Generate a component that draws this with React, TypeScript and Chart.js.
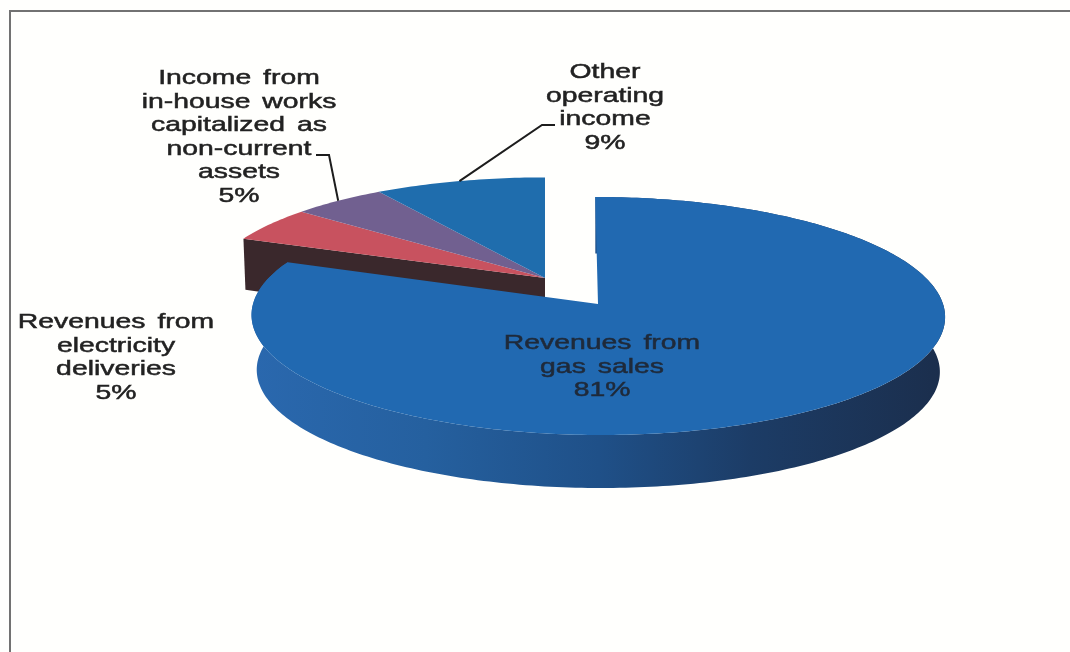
import React, { useEffect, useRef } from "react";
import { Chart, registerables } from "chart.js";

Chart.register(...registerables);

// Revenue structure, in percent of total operating income
const categories = [
  "Revenues from gas sales",
  "Revenues from electricity deliveries",
  "Income from in-house works capitalized as non-current assets",
  "Other operating income",
];
const shares = [81, 5, 5, 9];
const sliceColors = ["#2169b1", "#c8525f", "#716090", "#1f6dad"];

const labelLines = [
  ["Revenues from", "gas sales"],
  ["Revenues from", "electricity", "deliveries"],
  ["Income from", "in-house works", "capitalized as", "non-current", "assets"],
  ["Other", "operating", "income"],
];
const labelCentres = [
  { x: 602, y: 343.5 },
  { x: 116, y: 322.5 },
  { x: 239, y: 78.5 },
  { x: 605, y: 72.5 },
];
const leaderElbows = [
  null,
  null,
  [{ x: 316, y: 155 }, { x: 329, y: 155 }],
  [{ x: 555, y: 125 }, { x: 542, y: 125 }],
];

// Flattened disc seen in perspective
const WIDTH = 1070;
const HEIGHT = 652;
const DISC = { a: 345, b: 117.8, k: 0.1008, depth: 55, baseScale: 0.985 };
const MAIN = { x: 598, y: 304, sx: 1, sy: 1, skew: 3 };
const GROUP = { x: 545, y: 278, sx: 0.975, sy: 0.94, skew: 0 };
const LINE_HEIGHT = 23.5;
const TEXT_STRETCH = 1.35;

type Pt = { x: number; y: number };
type Frame = typeof MAIN;

function project(f: Frame, angle: number, scale = 1, drop = 0): Pt {
  const t = angle + Math.PI / 2;
  const u = Math.sin(t);
  const v = -Math.cos(t);
  const w = 1 - DISC.k * v;
  return {
    x: f.x + (scale * f.sx * (DISC.a * u + f.skew * v)) / w,
    y: f.y + (scale * f.sy * DISC.b * v) / w + drop,
  };
}

function rim(f: Frame, start: number, end: number, scale = 1, drop = 0): Pt[] {
  const n = Math.max(2, Math.ceil(Math.abs(end - start) * 60));
  const pts: Pt[] = [];
  for (let i = 0; i <= n; i++) pts.push(project(f, start + ((end - start) * i) / n, scale, drop));
  return pts;
}

function fillPolygon(ctx: CanvasRenderingContext2D, pts: Pt[], fill: string | CanvasGradient) {
  ctx.beginPath();
  pts.forEach((p, i) => (i ? ctx.lineTo(p.x, p.y) : ctx.moveTo(p.x, p.y)));
  ctx.closePath();
  ctx.fillStyle = fill;
  ctx.fill();
}

const discPlugin = {
  id: "perspectiveDisc",
  beforeDraw(chart: any) {
    const ctx: CanvasRenderingContext2D = chart.ctx;
    ctx.save();
    ctx.fillStyle = "#fffffd";
    ctx.fillRect(0, 0, WIDTH, HEIGHT);
    ctx.strokeStyle = "#727272";
    ctx.lineWidth = 2;
    ctx.beginPath();
    ctx.moveTo(10, HEIGHT);
    ctx.lineTo(10, 11);
    ctx.lineTo(WIDTH, 11);
    ctx.stroke();
    ctx.restore();
  },
  beforeDatasetDraw() {
    return false;
  },
  afterDatasetsDraw(chart: any) {
    const ctx: CanvasRenderingContext2D = chart.ctx;
    const arcs = chart.getDatasetMeta(0).data;
    ctx.save();

    // Pulled-out group of small slices, with its dark cut face
    const cut = arcs[1];
    const cutOuter = project(GROUP, cut.startAngle);
    fillPolygon(
      ctx,
      [cutOuter, GROUP, { x: GROUP.x, y: GROUP.y + DISC.depth }, { x: cutOuter.x + 2, y: cutOuter.y + 51 }],
      "#3a282c",
    );
    for (let i = 1; i < arcs.length; i++) {
      const arc = arcs[i];
      fillPolygon(ctx, [GROUP, ...rim(GROUP, arc.startAngle, arc.endAngle)], arc.options.backgroundColor);
    }

    // Main slice: outer wall first, then the top face over it
    const main = arcs[0];
    const wall = ctx.createLinearGradient(252, 0, 946, 0);
    wall.addColorStop(0, "#2a68ae");
    wall.addColorStop(0.25, "#25609f");
    wall.addColorStop(0.5, "#1f5088");
    wall.addColorStop(0.72, "#1c3c66");
    wall.addColorStop(1, "#1b2e4c");
    fillPolygon(
      ctx,
      [
        ...rim(MAIN, main.startAngle, main.endAngle),
        ...rim(MAIN, main.startAngle, main.endAngle, DISC.baseScale, DISC.depth).reverse(),
      ],
      wall,
    );
    fillPolygon(ctx, [MAIN, ...rim(MAIN, main.startAngle, main.endAngle)], main.options.backgroundColor);

    // Leader lines run from the text to the middle of their slice's rim
    ctx.strokeStyle = "#1d1d1d";
    ctx.lineWidth = 2;
    leaderElbows.forEach((elbow, i) => {
      if (!elbow) return;
      const arc = arcs[i];
      const end = project(GROUP, (arc.startAngle + arc.endAngle) / 2);
      ctx.beginPath();
      elbow.forEach((p, j) => (j ? ctx.lineTo(p.x, p.y) : ctx.moveTo(p.x, p.y)));
      ctx.lineTo(end.x, end.y);
      ctx.stroke();
    });

    // Wide category captions with the share on the last line
    ctx.textAlign = "center";
    ctx.textBaseline = "middle";
    ctx.font = '21px "Liberation Sans", Arial, sans-serif';
    (ctx as any).wordSpacing = "3px";
    ctx.lineWidth = 0.5;
    labelLines.forEach((lines, i) => {
      const all = [...lines, `${shares[i]}%`];
      const ink = i === 0 ? "#1f2a3a" : "#222222";
      ctx.fillStyle = ink;
      ctx.strokeStyle = ink;
      all.forEach((line, j) => {
        ctx.save();
        ctx.translate(labelCentres[i].x, labelCentres[i].y + j * LINE_HEIGHT);
        ctx.scale(TEXT_STRETCH, 1);
        ctx.fillText(line, 0, 0);
        ctx.strokeText(line, 0, 0);
        ctx.restore();
      });
    });
    ctx.restore();
  },
};

export default function App() {
  const ref = useRef<HTMLCanvasElement>(null);
  useEffect(() => {
    const chart = new Chart(ref.current!, {
      type: "pie",
      data: {
        labels: categories,
        datasets: [{ data: shares, backgroundColor: sliceColors, borderWidth: 0 }],
      },
      options: {
        animation: false,
        responsive: false,
        plugins: { legend: { display: false }, tooltip: { enabled: false } },
      },
      plugins: [discPlugin],
    });
    return () => chart.destroy();
  }, []);
  return (
    <canvas
      ref={ref}
      width={WIDTH}
      height={HEIGHT}
      style={{ position: "fixed", left: 0, top: 0, width: WIDTH, height: HEIGHT, display: "block" }}
    />
  );
}
